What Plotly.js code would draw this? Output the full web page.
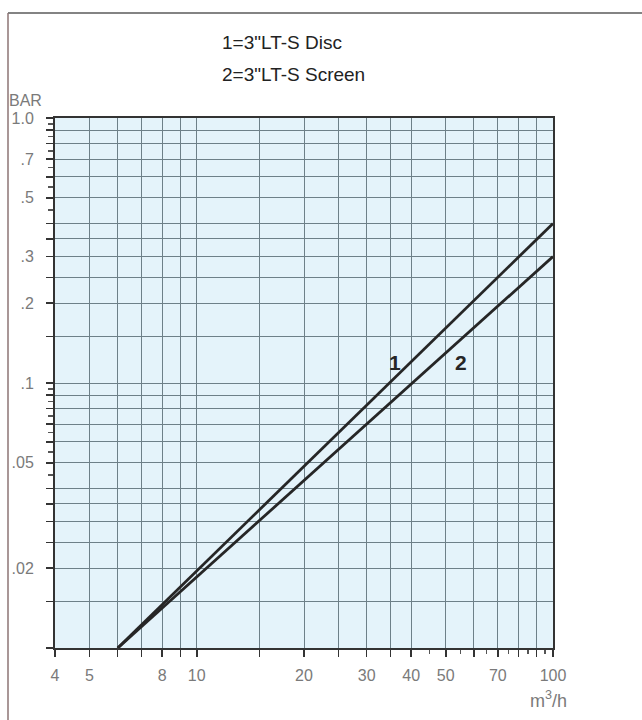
<!DOCTYPE html>
<html>
<head>
<meta charset="utf-8">
<script src="https://cdn.plot.ly/plotly-3.0.1.min.js"></script>
<style>html,body{margin:0;padding:0;background:#fff;}#chart{width:642px;height:720px;}</style>
</head>
<body>
<div id="chart"></div>
<script>
// Flow (m3/h) vs pressure drop (BAR)
const flowDisc = [6, 100];
const barDisc = [0.01, 0.40];
const flowScreen = [6, 100];
const barScreen = [0.01, 0.30];

const curveNames = ['1', '2'];
const curveLabelFlow = [36, 55];
const curveLabelBar = [0.12, 0.12];
const legendLines = ['1=3"LT-S Disc', '2=3"LT-S Screen'];

const xGridVals = [4, 5, 6, 7, 8, 9, 10, 15, 20, 25, 30, 35, 40, 50, 60, 70, 80, 90, 100];
const xLabelled = [4, 5, 8, 10, 20, 30, 40, 50, 70, 100];
const xMinorVals = [45, 55, 65, 75, 85, 95];

const yGridVals = [0.01, 0.015, 0.02, 0.025, 0.03, 0.035, 0.04, 0.05, 0.06, 0.07, 0.08, 0.09, 0.1,
                   0.15, 0.2, 0.25, 0.3, 0.35, 0.4, 0.5, 0.6, 0.7, 0.8, 0.9, 1.0];
const yLabelled = {0.02: '.02', 0.05: '.05', 0.1: '.1', 0.2: '.2', 0.3: '.3', 0.5: '.5', 0.7: '.7', 1.0: '1.0'};
const yMinorVals = [0.045, 0.055, 0.065, 0.075, 0.085, 0.095, 0.45, 0.55, 0.65, 0.75, 0.85, 0.95];

const xText = xGridVals.map(v => xLabelled.includes(v) ? String(v) : '');
const yText = yGridVals.map(v => (yLabelled[v] !== undefined) ? yLabelled[v] : '');

const lineStyle = {color: '#262626', width: 2.8};
const traces = [
  {x: flowDisc, y: barDisc, mode: 'lines', line: lineStyle, name: curveNames[0], hoverinfo: 'skip'},
  {x: flowScreen, y: barScreen, mode: 'lines', line: lineStyle, name: curveNames[1], hoverinfo: 'skip'}
];

const W = 642, H = 720, L = 55, R = 89, T = 118, B = 72;
const pw = W - L - R, ph = H - T - B;
const px = x => (x - L) / pw;
const py = y => (H - B - y) / ph;

const tickFont = {family: 'Liberation Sans, Arial, sans-serif', size: 16, color: '#7a7a7a'};
const gridColor = '#6d8088';

const annotations = [
  {xref: 'paper', yref: 'paper', x: px(220), y: py(43), xanchor: 'left', yanchor: 'middle',
   text: legendLines[0], showarrow: false, font: {family: 'Liberation Sans, Arial, sans-serif', size: 19, color: '#222'}},
  {xref: 'paper', yref: 'paper', x: px(220), y: py(75), xanchor: 'left', yanchor: 'middle',
   text: legendLines[1], showarrow: false, font: {family: 'Liberation Sans, Arial, sans-serif', size: 19, color: '#222'}},
  {xref: 'paper', yref: 'paper', x: px(7), y: py(101), xanchor: 'left', yanchor: 'middle',
   text: 'BAR', showarrow: false, font: tickFont},
  {xref: 'paper', yref: 'paper', x: px(569), y: py(699), xanchor: 'right', yanchor: 'middle',
   text: 'm<sup>3</sup>/h', showarrow: false, font: {family: 'Liberation Sans, Arial, sans-serif', size: 18, color: '#7a7a7a'}}
];
curveNames.forEach((n, i) => annotations.push({
  xref: 'x', yref: 'y', x: Math.log10(curveLabelFlow[i]), y: Math.log10(curveLabelBar[i]),
  text: '<b>' + n + '</b>', showarrow: false,
  font: {family: 'Liberation Sans, Arial, sans-serif', size: 21, color: '#262626'}
}));

const layout = {
  width: W, height: H,
  margin: {l: L, r: R, t: T, b: B, pad: 0},
  paper_bgcolor: '#ffffff',
  plot_bgcolor: '#e4f3fa',
  showlegend: false,
  xaxis: {
    type: 'log', range: [Math.log10(4), 2],
    tickmode: 'array', tickvals: xGridVals, ticktext: xText,
    tickangle: 0,
    ticks: 'outside', ticklen: 7, tickwidth: 1.5, tickcolor: '#333',
    ticklabelstandoff: 5,
    showgrid: true, gridcolor: gridColor, gridwidth: 1,
    showline: true, linecolor: '#333', linewidth: 2, mirror: true,
    tickfont: tickFont, zeroline: false,
    minor: {tickmode: 'array', tickvals: xMinorVals, ticks: 'outside', ticklen: 4, tickcolor: '#555', showgrid: false}
  },
  yaxis: {
    type: 'log', range: [-2, 0],
    tickmode: 'array', tickvals: yGridVals, ticktext: yText,
    tickangle: 0,
    ticks: 'outside', ticklen: 7, tickwidth: 1.5, tickcolor: '#333',
    ticklabelstandoff: 9,
    showgrid: true, gridcolor: gridColor, gridwidth: 1,
    showline: true, linecolor: '#333', linewidth: 2, mirror: true,
    tickfont: tickFont, zeroline: false,
    minor: {tickmode: 'array', tickvals: yMinorVals, ticks: 'outside', ticklen: 5, tickcolor: '#555', showgrid: false}
  },
  annotations: annotations,
  shapes: [
    {type: 'line', xref: 'paper', yref: 'paper', x0: px(8), x1: px(642), y0: py(13), y1: py(13),
     line: {color: '#5a5a5a', width: 1.5}},
    {type: 'line', xref: 'paper', yref: 'paper', x0: px(8), x1: px(8), y0: py(13), y1: py(720),
     line: {color: '#8c7474', width: 1.5}}
  ]
};

Plotly.newPlot('chart', traces, layout, {staticPlot: true, displayModeBar: false});
</script>
</body>
</html>
